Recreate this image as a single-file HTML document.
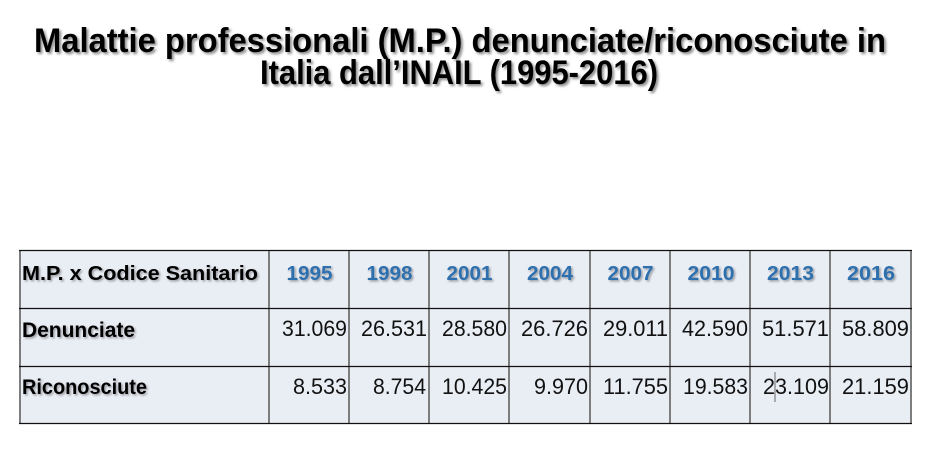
<!DOCTYPE html>
<html>
<head>
<meta charset="utf-8">
<style>
html,body{margin:0;padding:0;background:#fff;}
body{width:952px;height:473px;overflow:hidden;}
svg{display:block;}
text{font-family:"Liberation Sans",sans-serif;}
</style>
</head>
<body>
<svg width="952" height="473" viewBox="0 0 952 473" xmlns="http://www.w3.org/2000/svg">
<defs>
<filter id="sh" x="-10%" y="-30%" width="120%" height="160%">
<feDropShadow dx="2" dy="2" stdDeviation="1.2" flood-color="#000" flood-opacity="0.45"/>
</filter>
<filter id="sh2" x="-10%" y="-30%" width="120%" height="160%">
<feDropShadow dx="1.5" dy="1.5" stdDeviation="1" flood-color="#000" flood-opacity="0.35"/>
</filter>
</defs>
<rect width="952" height="473" fill="#fff"/>

<!-- Title -->
<g filter="url(#sh)" font-weight="bold" font-size="34" fill="#000">
<text x="34" y="52" textLength="852" lengthAdjust="spacingAndGlyphs">Malattie professionali (M.P.) denunciate/riconosciute in</text>
<text x="260" y="84" textLength="398" lengthAdjust="spacingAndGlyphs">Italia dall’INAIL (1995-2016)</text>
</g>

<!-- Table background -->
<rect x="19" y="250" width="892" height="173" fill="#e9edf4"/>

<!-- Vertical lines -->
<g stroke="#7d7d7d" stroke-width="2">
<line x1="20" y1="250" x2="20" y2="424"/>
<line x1="269" y1="250" x2="269" y2="424"/>
<line x1="349" y1="250" x2="349" y2="424"/>
<line x1="429" y1="250" x2="429" y2="424"/>
<line x1="509" y1="250" x2="509" y2="424"/>
<line x1="590" y1="250" x2="590" y2="424"/>
<line x1="670" y1="250" x2="670" y2="424"/>
<line x1="750" y1="250" x2="750" y2="424"/>
<line x1="830" y1="250" x2="830" y2="424"/>
<line x1="911" y1="250" x2="911" y2="424"/>
</g>
<!-- Horizontal lines -->
<g stroke="#111" stroke-width="1.3">
<line x1="19" y1="250.5" x2="912" y2="250.5"/>
<line x1="19" y1="308.5" x2="912" y2="308.5"/>
<line x1="19" y1="366.5" x2="912" y2="366.5"/>
<line x1="19" y1="423.5" x2="912" y2="423.5"/>
</g>

<!-- Header row -->
<g filter="url(#sh2)" font-weight="bold">
<text x="22" y="280" font-size="20" fill="#000" textLength="236" lengthAdjust="spacingAndGlyphs">M.P. x  Codice Sanitario</text>
<g font-size="20" fill="#2e6fae" text-anchor="middle">
<text x="309.5" y="280" textLength="46" lengthAdjust="spacingAndGlyphs">1995</text>
<text x="389.5" y="280" textLength="46" lengthAdjust="spacingAndGlyphs">1998</text>
<text x="469.5" y="280" textLength="46" lengthAdjust="spacingAndGlyphs">2001</text>
<text x="550" y="280" textLength="46" lengthAdjust="spacingAndGlyphs">2004</text>
<text x="630.5" y="280" textLength="46" lengthAdjust="spacingAndGlyphs">2007</text>
<text x="711" y="280" textLength="47" lengthAdjust="spacingAndGlyphs">2010</text>
<text x="790.5" y="280" textLength="47" lengthAdjust="spacingAndGlyphs">2013</text>
<text x="871" y="280" textLength="48" lengthAdjust="spacingAndGlyphs">2016</text>
</g>
<text x="22" y="337" font-size="21" fill="#000" textLength="113" lengthAdjust="spacingAndGlyphs">Denunciate</text>
<text x="22" y="394" font-size="21" fill="#000" textLength="125" lengthAdjust="spacingAndGlyphs">Riconosciute</text>
</g>

<!-- Values -->
<g font-size="22" fill="#111">
<text x="282" y="336" textLength="65" lengthAdjust="spacingAndGlyphs">31.069</text>
<text x="361" y="336" textLength="66" lengthAdjust="spacingAndGlyphs">26.531</text>
<text x="442" y="336" textLength="65" lengthAdjust="spacingAndGlyphs">28.580</text>
<text x="521" y="336" textLength="67" lengthAdjust="spacingAndGlyphs">26.726</text>
<text x="603" y="336" textLength="65" lengthAdjust="spacingAndGlyphs">29.011</text>
<text x="682" y="336" textLength="66" lengthAdjust="spacingAndGlyphs">42.590</text>
<text x="762" y="336" textLength="67" lengthAdjust="spacingAndGlyphs">51.571</text>
<text x="842" y="336" textLength="67" lengthAdjust="spacingAndGlyphs">58.809</text>

<text x="293" y="394" textLength="54" lengthAdjust="spacingAndGlyphs">8.533</text>
<text x="373" y="394" textLength="53" lengthAdjust="spacingAndGlyphs">8.754</text>
<text x="442" y="394" textLength="65" lengthAdjust="spacingAndGlyphs">10.425</text>
<text x="534" y="394" textLength="54" lengthAdjust="spacingAndGlyphs">9.970</text>
<text x="603" y="394" textLength="65" lengthAdjust="spacingAndGlyphs">11.755</text>
<text x="683" y="394" textLength="65" lengthAdjust="spacingAndGlyphs">19.583</text>
<text x="763" y="394" textLength="66" lengthAdjust="spacingAndGlyphs">23.109</text>
<text x="842" y="394" textLength="67" lengthAdjust="spacingAndGlyphs">21.159</text>
</g>

<!-- text cursor -->
<line x1="775" y1="372" x2="775" y2="402" stroke="#666" stroke-width="1"/>
</svg>
</body>
</html>
